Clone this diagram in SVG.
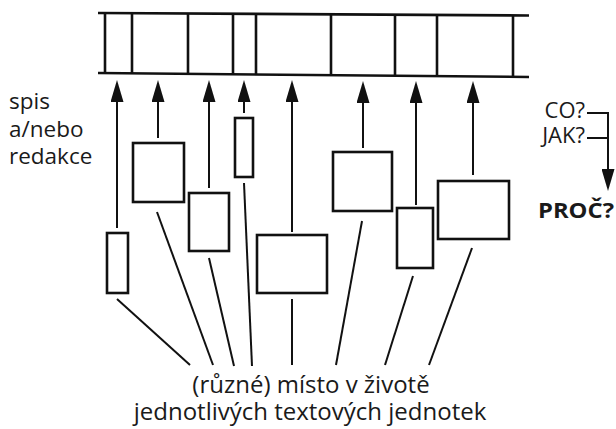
<svg xmlns="http://www.w3.org/2000/svg" width="616" height="429" viewBox="0 0 616 429">
  <style>
    .ink { stroke: #111; fill: none; }
    .bar { stroke-width: 2.6; }
    .box { stroke-width: 2.6; fill: #fff; }
    .link { stroke-width: 2; }
    .lbl { font-family: "Open Sans", "Noto Sans", "DejaVu Sans", sans-serif; fill: #1a1a1a; }
  </style>
  <defs>
    <marker id="head" markerUnits="userSpaceOnUse" viewBox="0 0 22 13" refX="11" refY="6.5"
            markerWidth="22" markerHeight="13" orient="auto">
      <path d="M0,0 L22,6.5 L0,13 z" fill="#111"/>
    </marker>
  </defs>

  <rect width="616" height="429" fill="#fff"/>

  <!-- the finished text: a strip divided into sections -->
  <g id="strip" class="ink bar">
    <line x1="98" y1="13" x2="529" y2="15.5"/>
    <line x1="98" y1="73" x2="529" y2="77"/>
    <line x1="105" y1="13" x2="105" y2="73"/>
    <line x1="132" y1="13.2" x2="132" y2="73.2"/>
    <line x1="188" y1="13.5" x2="188" y2="73.7"/>
    <line x1="233" y1="13.8" x2="233" y2="74.2"/>
    <line x1="256" y1="13.9" x2="256" y2="74.4"/>
    <line x1="331" y1="14.3" x2="331" y2="75.1"/>
    <line x1="395" y1="14.7" x2="395" y2="75.7"/>
    <line x1="437" y1="15" x2="437" y2="76.1"/>
    <line x1="513" y1="15.4" x2="513" y2="76.8"/>
  </g>

  <!-- individual text units -->
  <g id="unit1"><rect class="ink box" x="107" y="233" width="21" height="60"/></g>
  <g id="unit2"><rect class="ink box" x="133" y="143" width="51" height="59"/></g>
  <g id="unit3"><rect class="ink box" x="189" y="193" width="40" height="58"/></g>
  <g id="unit4"><rect class="ink box" x="235" y="118" width="18" height="59"/></g>
  <g id="unit5"><rect class="ink box" x="257" y="235" width="70" height="58"/></g>
  <g id="unit6"><rect class="ink box" x="333" y="152" width="59" height="59"/></g>
  <g id="unit7"><rect class="ink box" x="397" y="208" width="36" height="60"/></g>
  <g id="unit8"><rect class="ink box" x="438" y="181" width="71" height="58"/></g>

  <!-- labels -->
  <g id="label-left" class="lbl" font-size="22.5">
    <text x="9" y="109">spis</text>
    <text x="9" y="137">a/nebo</text>
    <text x="9" y="164">redakce</text>
  </g>
  <g id="label-right" class="lbl" font-size="22">
    <text x="585" y="118" text-anchor="end">CO?</text>
    <text x="585" y="143" text-anchor="end">JAK?</text>
    <text x="538" y="218" font-weight="bold" textLength="76" lengthAdjust="spacingAndGlyphs">PROČ?</text>
  </g>
  <g id="label-bottom" class="lbl" font-size="24" text-anchor="middle">
    <text x="311" y="393">(různé) místo v životě</text>
    <text x="310" y="420">jednotlivých textových jednotek</text>
  </g>

  <!-- connectors -->
  <g id="connectors" class="ink link">
    <!-- upward arrows: unit into the strip -->
    <line x1="117" y1="228" x2="117" y2="91" marker-end="url(#head)"/>
    <line x1="158" y1="138" x2="158" y2="91" marker-end="url(#head)"/>
    <line x1="209" y1="188" x2="209" y2="91" marker-end="url(#head)"/>
    <line x1="244" y1="113" x2="244" y2="91" marker-end="url(#head)"/>
    <line x1="292" y1="232" x2="292" y2="91" marker-end="url(#head)"/>
    <line x1="363" y1="148" x2="363" y2="92" marker-end="url(#head)"/>
    <line x1="416" y1="205" x2="416" y2="92" marker-end="url(#head)"/>
    <line x1="473" y1="175" x2="473" y2="92" marker-end="url(#head)"/>
    <!-- lines from each unit down to its setting in life -->
    <line x1="117" y1="299" x2="190" y2="365"/>
    <line x1="157" y1="212" x2="213" y2="365"/>
    <line x1="209" y1="258" x2="234" y2="366"/>
    <line x1="244" y1="183" x2="252" y2="366"/>
    <line x1="292" y1="299" x2="292" y2="365"/>
    <line x1="362" y1="221" x2="336" y2="365"/>
    <line x1="413" y1="276" x2="385" y2="365"/>
    <line x1="472" y1="248" x2="429" y2="365"/>
    <!-- CO? / JAK? leading to PROČ? -->
    <polyline points="587,113 608,113 608,180" marker-end="url(#head)"/>
    <line x1="587" y1="138" x2="608" y2="138"/>
  </g>
</svg>
